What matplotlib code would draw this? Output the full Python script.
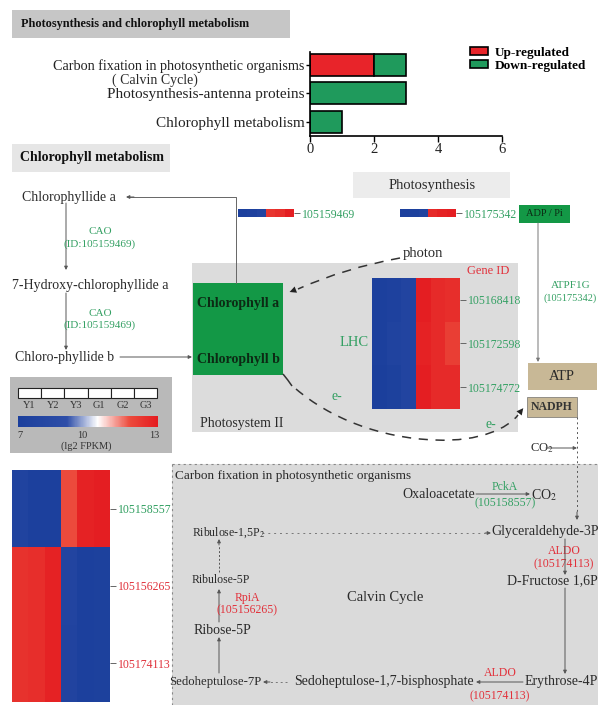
import matplotlib
matplotlib.use('Agg')
import matplotlib.pyplot as plt
import numpy as np
from matplotlib.patches import Rectangle, PathPatch
from matplotlib.path import Path
from matplotlib.colors import LinearSegmentedColormap, Normalize
from matplotlib.cm import ScalarMappable

plt.rcParams['font.family'] = 'Liberation Serif'
plt.rcParams['mathtext.fontset'] = 'stix'

W, H = 598, 705

# KEGG enrichment counts per pathway
pathways = ['Carbon fixation in photosynthetic organisms', 'Photosynthesis-antenna proteins', 'Chlorophyll metabolism']
up_counts = [2, 0, 0]
down_counts = [1, 3, 1]

# expression heatmaps, lg2 FPKM, columns Y1 Y2 Y3 G1 G2 G3
samples = ['Y1', 'Y2', 'Y3', 'G1', 'G2', 'G3']
cao_ids = ['105159469']
cao_expr = [[7.2, 7.4, 7.8, 12.3, 12.5, 12.9]]
atp_ids = ['105175342']
atp_expr = [[7.2, 7.3, 7.6, 12.6, 12.8, 12.9]]
lhc_ids = ['105168418', '105172598', '105174772']
lhc_expr = [[7.2, 7.4, 7.8, 12.9, 12.6, 12.5],
            [7.2, 7.6, 7.8, 12.8, 12.6, 12.1],
            [7.1, 7.3, 7.8, 12.9, 12.6, 12.6]]
calvin_ids = ['105158557', '105156265', '105174113']
calvin_expr = [[7.6, 7.2, 7.2, 11.8, 12.8, 12.9],
               [12.4, 12.5, 12.8, 7.8, 7.2, 7.3],
               [12.4, 12.5, 12.8, 7.7, 7.2, 7.3]]
calvin_id_colors = ['#2f9e5f', '#e0303a', '#e0303a']

GREEN_TXT = '#34a063'
RED_TXT = '#e2303a'
DARK = '#2a2a2a'
RED_BAR = '#e8242a'
GREEN_BAR = '#1f9a5c'

cmap = LinearSegmentedColormap.from_list('expr', [(0.0, '#1b3f9c'), (0.35, '#2e4ea8'), (0.57, '#ffffff'),
                                                  (0.8, '#ec4a3c'), (1.0, '#e41b20')])
norm = Normalize(7, 13)

fig = plt.figure(figsize=(W / 100, H / 100), dpi=100)
ax = fig.add_axes([0, 0, 1, 1])
ax.set_xlim(0, W)
ax.set_ylim(H, 0)
ax.axis('off')


def px_axes(x0, y0, x1, y1):
    return fig.add_axes([x0 / W, 1 - y1 / H, (x1 - x0) / W, (y1 - y0) / H])


def box(x0, y0, x1, y1, fc, ec='none', lw=0, ls='-', z=0):
    ax.add_patch(Rectangle((x0, y0), x1 - x0, y1 - y0, fc=fc, ec=ec, lw=lw, ls=ls, zorder=z))


def txt(x, y, s, size=10, color=DARK, **kw):
    kw.setdefault('va', 'center')
    ax.text(x, y, s, fontsize=size, color=color, **kw)


def arrow(x0, y0, x1, y1, ls='-', color='#555555', lw=0.7):
    ax.annotate('', xy=(x1, y1), xytext=(x0, y0),
                arrowprops=dict(arrowstyle='-|>', color=color, lw=lw, ls=ls,
                                mutation_scale=5, shrinkA=0, shrinkB=0))


def heat(rect, data, ids, colors, size=8):
    hx = px_axes(*rect)
    hx.imshow(np.array(data), cmap=cmap, norm=norm, aspect='auto', interpolation='nearest')
    hx.set_xticks([])
    hx.set_yticks(range(len(ids)))
    hx.set_yticklabels(ids, fontsize=size)
    hx.yaxis.tick_right()
    hx.tick_params(axis='y', length=4, width=0.7, color='#666666', pad=2)
    for lab, c in zip(hx.get_yticklabels(), colors):
        lab.set_color(c)
    for s in hx.spines.values():
        s.set_visible(False)
    return hx


# section headers
box(12, 10, 290, 38, '#c6c6c6')
txt(21, 24, 'Photosynthesis and chlorophyll metabolism', size=8.8, weight='bold', color='#111111')
box(12, 144, 170, 172, '#e6e6e6')
txt(20, 158, 'Chlorophyll metabolism', size=10, weight='bold', color='#111111')
box(353, 172, 510, 198, '#ececec')
txt(432, 185, 'Photosynthesis', size=10.5, ha='center')

# enrichment bar chart
bx = px_axes(310, 52, 502, 136)
ypos = np.arange(len(pathways))[::-1]
b_up = bx.barh(ypos, up_counts, height=0.78, color=RED_BAR, ec='black', lw=1.2, label='Up-regulated')
b_dn = bx.barh(ypos, down_counts, left=up_counts, height=0.78, color=GREEN_BAR, ec='black', lw=1.2,
               label='Down-regulated')
bx.set_xlim(0, 6)
bx.set_ylim(-0.5, 2.45)
bx.set_xticks([0, 2, 4, 6])
bx.set_yticks(ypos)
bx.set_yticklabels(pathways)
bx.tick_params(axis='y', labelsize=11, length=3, width=1, pad=1, labelcolor='#222222')
bx.tick_params(axis='x', labelsize=10.5, length=4, width=1, pad=1, labelcolor='#222222')
bx.get_yticklabels()[0].set_fontsize(10.2)
for s in ['top', 'right']:
    bx.spines[s].set_visible(False)
for s in ['left', 'bottom']:
    bx.spines[s].set_linewidth(1.2)
bx.patch.set_alpha(0)
txt(155, 80, '( Calvin Cycle)', size=10, ha='center')
fig.legend(handles=[b_up, b_dn], loc='upper left', bbox_to_anchor=(463 / W, 1 - 40 / H),
           frameon=False, prop=dict(weight='bold', size=9.5), handlelength=1.4, handleheight=0.6,
           labelspacing=0.1, handletextpad=0.5, borderpad=0)

# chlorophyll metabolism branch
txt(22, 197, 'Chlorophyllide a', size=10)
txt(12, 285, '7-Hydroxy-chlorophyllide a', size=10)
txt(15, 357, 'Chloro-phyllide b', size=10)
arrow(66, 203, 66, 270)
arrow(66, 293, 66, 350)
txt(100, 232, 'CAO', size=8, color=GREEN_TXT, ha='center')
txt(100, 244, '(ID:105159469)', size=8, color=GREEN_TXT, ha='center')
txt(100, 313, 'CAO', size=8, color=GREEN_TXT, ha='center')
txt(100, 325, '(ID:105159469)', size=8, color=GREEN_TXT, ha='center')
ax.plot([236, 236, 130], [283, 197, 197], color='#666666', lw=0.7)
arrow(134, 197, 126, 197)
arrow(120, 357, 192, 357)

# photosystem II
box(192, 263, 518, 432, '#dcdcdc')
box(193, 283, 283, 375, '#139846', z=1)
txt(197, 304, 'Chlorophyll a', size=10, weight='bold', color='#0c2a14', zorder=2)
txt(197, 360, 'Chlorophyll b', size=10, weight='bold', color='#0c2a14', zorder=2)
txt(200, 423, 'Photosystem II', size=10)
txt(354, 342, 'LHC', size=10.5, color=GREEN_TXT, ha='center')
txt(509, 271, 'Gene ID', size=9, color=RED_TXT, ha='right')

# photon path
photon = Path([(400, 258), (345, 268), (298, 289)], [Path.MOVETO, Path.CURVE3, Path.CURVE3])
ax.add_patch(PathPatch(photon, fc='none', ec='#333333', lw=1.1, ls=(0, (6, 5))))
ax.annotate('', xy=(287, 293), xytext=(300, 288),
            arrowprops=dict(arrowstyle='-|>', color='#222222', lw=0, mutation_scale=12))
txt(403, 253, 'photon', size=10.5)

# electron path
ax.add_patch(PathPatch(Path([(283, 374), (288, 380), (292, 386)], [Path.MOVETO, Path.CURVE3, Path.CURVE3]),
                       fc='none', ec='#333333', lw=1.1))
electron = Path([(296, 389), (330, 418), (380, 438), (435, 440), (480, 442), (508, 428), (518, 415)],
                [Path.MOVETO, Path.CURVE4, Path.CURVE4, Path.CURVE4, Path.CURVE4, Path.CURVE4, Path.CURVE4])
ax.add_patch(PathPatch(electron, fc='none', ec='#333333', lw=1.1, ls=(0, (6, 5))))
ax.annotate('', xy=(525, 406), xytext=(517, 416),
            arrowprops=dict(arrowstyle='-|>', color='#222222', lw=0, mutation_scale=12))
txt(332, 396, 'e-', size=10, color=GREEN_TXT)
txt(486, 425, 'e-', size=10, color=GREEN_TXT)

# ATP synthase branch
box(519, 205, 570, 223, '#139846')
txt(544.5, 214, 'ADP / Pi', size=7.5, color='#0c2a14', ha='center')
arrow(538, 223, 538, 362, color='#777777')
txt(571, 285, 'ATPF1G', size=8, color=GREEN_TXT, ha='center')
txt(570, 298, '(105175342)', size=7.5, color=GREEN_TXT, ha='center')
box(528, 363, 597, 390, '#c8b896')
txt(562, 376.5, 'ATP', size=10.5, ha='center')
box(527, 397, 577, 417, '#c8b896', ec='#555555', lw=0.4)
txt(552, 407, 'NADPH', size=8.5, ha='center', weight='bold', color='#333333')

# small heatmaps
heat((238, 209, 294, 217), cao_expr, cao_ids, [GREEN_TXT], size=8.5)
heat((400, 209, 456, 217), atp_expr, atp_ids, [GREEN_TXT], size=8.5)
heat((372, 278, 460, 409), lhc_expr, lhc_ids, [GREEN_TXT] * 3, size=8.5)

# colour key
box(10, 377, 172, 453, '#b9b9b9')
for i, smp in enumerate(samples):
    x0 = 18 + i * 23.2
    box(x0, 388, x0 + 23.2, 398, 'white', ec='#222222', lw=0.8, z=1)
    txt(x0 + 11.6, 405, smp, size=7.5, ha='center', color='#333333')
cax = px_axes(18, 416, 158, 427)
cbar = fig.colorbar(ScalarMappable(norm=norm, cmap=cmap), cax=cax, orientation='horizontal')
cbar.set_ticks([])
cbar.outline.set_visible(False)
txt(20, 435, '7', size=7.5, ha='center', color='#333333')
txt(82, 435, '10', size=7.5, ha='center', color='#333333')
txt(154, 435, '13', size=7.5, ha='center', color='#333333')
txt(86, 446, '(lg2 FPKM)', size=7.5, ha='center', color='#333333')

# carbon fixation panel
box(172, 464, 598, 705, '#dadada')
ax.plot([172, 598], [464, 464], color='#888888', lw=0.8, ls=(0, (2, 3)))
ax.plot([172, 172], [464, 705], color='#888888', lw=0.8, ls=(0, (2, 3)))
txt(175, 476, 'Carbon fixation in photosynthetic organisms', size=9.5)
txt(475, 494, 'Oxaloacetate', size=10, ha='right')
arrow(476, 494, 530, 494)
txt(531, 495, 'CO$_2$', size=10)
txt(505, 487, 'PckA', size=8.5, color=GREEN_TXT, ha='center')
txt(505, 503, '(105158557)', size=8.5, color=GREEN_TXT, ha='center')
txt(530, 448, 'CO$_2$', size=9)
arrow(546, 448, 577, 448)
ax.plot([577, 577], [417, 512], color='#555555', lw=0.7, ls=(0, (2, 3)))
arrow(577, 512, 577, 520)
txt(491, 532, 'Glyceraldehyde-3P', size=10)
ax.plot([262, 485], [533, 533], color='#777777', lw=0.7, ls=(0, (2, 4)))
arrow(485, 533, 491, 533)
txt(564, 551, 'ALDO', size=8.5, color=RED_TXT, ha='center')
txt(564, 564, '(105174113)', size=8.5, color=RED_TXT, ha='center')
arrow(565, 539, 565, 575)
txt(598, 581, 'D-Fructose 1,6P', size=10, ha='right')
arrow(565, 588, 565, 674)
txt(598, 682, 'Erythrose-4P', size=10, ha='right')
arrow(523, 682, 476, 682)
txt(500, 673, 'ALDO', size=8.5, color=RED_TXT, ha='center')
txt(500, 696, '(105174113)', size=8.5, color=RED_TXT, ha='center')
txt(474, 682, 'Sedoheptulose-1,7-bisphosphate', size=10, ha='right')
ax.plot([287, 270], [682, 682], color='#777777', lw=0.7, ls=(0, (2, 3)))
arrow(270, 682, 263, 682)
txt(261, 682, 'Sedoheptulose-7P', size=9.2, ha='right')
arrow(219, 673, 219, 637)
txt(222, 630, 'Ribose-5P', size=10, ha='center')
arrow(219, 622, 219, 589)
txt(247, 598, 'RpiA', size=8.5, color=RED_TXT, ha='center')
txt(247, 610, '(105156265)', size=8.5, color=RED_TXT, ha='center')
txt(221, 580, 'Ribulose-5P', size=8.5, ha='center')
ax.plot([219, 219], [572, 545], color='#555555', lw=0.7, ls=(0, (2, 2)))
arrow(219, 545, 219, 539)
txt(228, 533, 'Ribulose-1,5P$_2$', size=8.5, ha='center')
txt(385, 598, 'Calvin Cycle', size=10.5, ha='center')

heat((12, 470, 110, 702), calvin_expr, calvin_ids, calvin_id_colors, size=8.5)

fig.savefig('out.png', dpi=100)
